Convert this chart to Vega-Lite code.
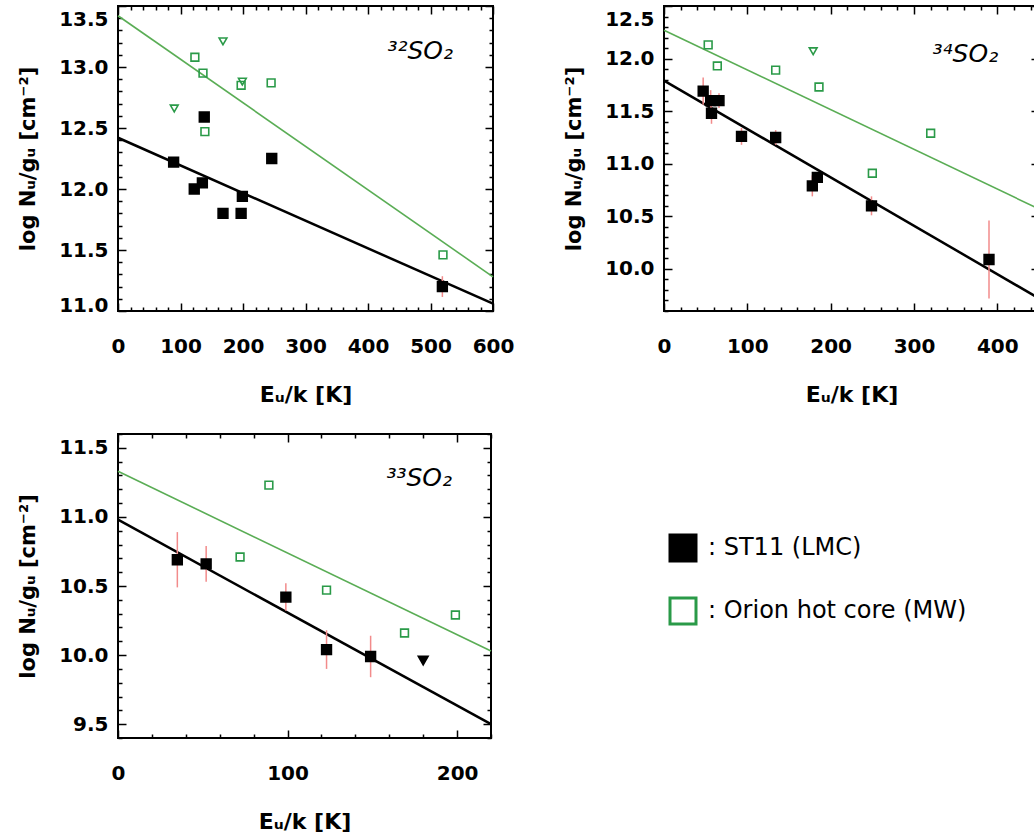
{
  "$schema": "https://vega.github.io/schema/vega-lite/v6.json",
  "background": "white",
  "padding": {"left": 16, "top": 4, "right": 0, "bottom": 0},
  "config": {
    "view": {"stroke": "black", "strokeWidth": 2},
    "axis": {"domain": false, "grid": false, "ticks": true, "tickColor": "black", "tickWidth": 1.5,
      "labelFont": "DejaVu Sans", "labelFontWeight": "bold", "labelFontSize": 20, "labelColor": "black",
      "titleFont": "DejaVu Sans", "titleFontWeight": "bold", "titleFontSize": 21, "titleColor": "black",
      "labelOverlap": false, "labelBound": false, "labelFlush": false},
    "axisBottom": {"labelPadding": 33, "titlePadding": 24, "titleFontSize": 22},
    "axisLeft": {"labelPadding": 18, "titlePadding": 20}
  },
  "datasets": {
    "pts32": [
      {"E": 89, "logN": 12.22, "err": 0.03, "source": "ST11 (LMC)", "kind": "detection"},
      {"E": 122, "logN": 12.00, "err": 0.03, "source": "ST11 (LMC)", "kind": "detection"},
      {"E": 135, "logN": 12.05, "err": 0.03, "source": "ST11 (LMC)", "kind": "detection"},
      {"E": 138, "logN": 12.59, "err": 0.04, "source": "ST11 (LMC)", "kind": "detection"},
      {"E": 168, "logN": 11.80, "err": 0.03, "source": "ST11 (LMC)", "kind": "detection"},
      {"E": 197, "logN": 11.80, "err": 0.03, "source": "ST11 (LMC)", "kind": "detection"},
      {"E": 199, "logN": 11.94, "err": 0.03, "source": "ST11 (LMC)", "kind": "detection"},
      {"E": 246, "logN": 12.25, "err": 0.04, "source": "ST11 (LMC)", "kind": "detection"},
      {"E": 519, "logN": 11.20, "err": 0.085, "source": "ST11 (LMC)", "kind": "detection"},
      {"E": 123, "logN": 13.08, "source": "Orion hot core (MW)", "kind": "detection"},
      {"E": 136, "logN": 12.95, "source": "Orion hot core (MW)", "kind": "detection"},
      {"E": 139, "logN": 12.47, "source": "Orion hot core (MW)", "kind": "detection"},
      {"E": 197, "logN": 12.85, "source": "Orion hot core (MW)", "kind": "detection"},
      {"E": 245, "logN": 12.87, "source": "Orion hot core (MW)", "kind": "detection"},
      {"E": 520, "logN": 11.46, "source": "Orion hot core (MW)", "kind": "detection"},
      {"E": 90, "logN": 12.66, "source": "Orion hot core (MW)", "kind": "upper limit"},
      {"E": 168, "logN": 13.21, "source": "Orion hot core (MW)", "kind": "upper limit"},
      {"E": 199, "logN": 12.88, "source": "Orion hot core (MW)", "kind": "upper limit"}
    ],
    "fit32": [
      {"E": 0, "logN": 12.42, "source": "ST11 (LMC)"},
      {"E": 600, "logN": 11.06, "source": "ST11 (LMC)"},
      {"E": 0, "logN": 13.42, "source": "Orion hot core (MW)"},
      {"E": 600, "logN": 11.28, "source": "Orion hot core (MW)"}
    ],
    "pts34": [
      {"E": 47, "logN": 11.69, "err": 0.13, "source": "ST11 (LMC)", "kind": "detection"},
      {"E": 56, "logN": 11.60, "err": 0.10, "source": "ST11 (LMC)", "kind": "detection"},
      {"E": 66, "logN": 11.60, "err": 0.07, "source": "ST11 (LMC)", "kind": "detection"},
      {"E": 57, "logN": 11.48, "err": 0.10, "source": "ST11 (LMC)", "kind": "detection"},
      {"E": 93, "logN": 11.26, "err": 0.08, "source": "ST11 (LMC)", "kind": "detection"},
      {"E": 134, "logN": 11.25, "err": 0.07, "source": "ST11 (LMC)", "kind": "detection"},
      {"E": 178, "logN": 10.79, "err": 0.10, "source": "ST11 (LMC)", "kind": "detection"},
      {"E": 184, "logN": 10.87, "err": 0.05, "source": "ST11 (LMC)", "kind": "detection"},
      {"E": 249, "logN": 10.60, "err": 0.09, "source": "ST11 (LMC)", "kind": "detection"},
      {"E": 390, "logN": 10.09, "err": 0.37, "source": "ST11 (LMC)", "kind": "detection"},
      {"E": 53, "logN": 12.13, "source": "Orion hot core (MW)", "kind": "detection"},
      {"E": 64, "logN": 11.93, "source": "Orion hot core (MW)", "kind": "detection"},
      {"E": 134, "logN": 11.89, "source": "Orion hot core (MW)", "kind": "detection"},
      {"E": 186, "logN": 11.73, "source": "Orion hot core (MW)", "kind": "detection"},
      {"E": 250, "logN": 10.91, "source": "Orion hot core (MW)", "kind": "detection"},
      {"E": 320, "logN": 11.29, "source": "Orion hot core (MW)", "kind": "detection"},
      {"E": 179, "logN": 12.07, "source": "Orion hot core (MW)", "kind": "upper limit"}
    ],
    "fit34": [
      {"E": 0, "logN": 11.79, "source": "ST11 (LMC)"},
      {"E": 450, "logN": 9.72, "source": "ST11 (LMC)"},
      {"E": 0, "logN": 12.27, "source": "Orion hot core (MW)"},
      {"E": 450, "logN": 10.57, "source": "Orion hot core (MW)"}
    ],
    "pts33": [
      {"E": 35, "logN": 10.69, "err": 0.20, "source": "ST11 (LMC)", "kind": "detection"},
      {"E": 52, "logN": 10.66, "err": 0.13, "source": "ST11 (LMC)", "kind": "detection"},
      {"E": 99, "logN": 10.42, "err": 0.10, "source": "ST11 (LMC)", "kind": "detection"},
      {"E": 123, "logN": 10.04, "err": 0.14, "source": "ST11 (LMC)", "kind": "detection"},
      {"E": 149, "logN": 9.99, "err": 0.15, "source": "ST11 (LMC)", "kind": "detection"},
      {"E": 180, "logN": 9.96, "source": "ST11 (LMC)", "kind": "upper limit"},
      {"E": 89, "logN": 11.23, "source": "Orion hot core (MW)", "kind": "detection"},
      {"E": 72, "logN": 10.71, "source": "Orion hot core (MW)", "kind": "detection"},
      {"E": 123, "logN": 10.47, "source": "Orion hot core (MW)", "kind": "detection"},
      {"E": 169, "logN": 10.16, "source": "Orion hot core (MW)", "kind": "detection"},
      {"E": 199, "logN": 10.29, "source": "Orion hot core (MW)", "kind": "detection"}
    ],
    "fit33": [
      {"E": 0, "logN": 10.98, "source": "ST11 (LMC)"},
      {"E": 220, "logN": 9.50, "source": "ST11 (LMC)"},
      {"E": 0, "logN": 11.33, "source": "Orion hot core (MW)"},
      {"E": 220, "logN": 10.03, "source": "Orion hot core (MW)"}
    ],
    "legend": [
      {"source": "ST11 (LMC)", "label": ": ST11 (LMC)"},
      {"source": "Orion hot core (MW)", "label": ": Orion hot core (MW)"}
    ]
  },
  "spacing": 17,
  "resolve": {
    "scale": {"fill": "independent", "stroke": "independent", "shape": "independent", "size": "independent", "color": "independent", "strokeWidth": "independent"}
  },
  "vconcat": [
    {
      "spacing": 47,
      "hconcat": [
        {
          "width": 375, "height": 305,
          "data": {"name": "pts32"},
          "resolve": {"axis": {"x": "independent", "y": "independent"}},
          "layer": [
            {
              "data": {"name": "fit32"},
              "mark": {"type": "line"},
              "encoding": {
                "x": {"field": "E", "type": "quantitative", "scale": {"domain": [0, 600], "nice": false, "zero": false},
                  "axis": {"orient": "top", "title": null, "labels": false, "values": [0,20,40,60,80,100,120,140,160,180,200,220,240,260,280,300,320,340,360,380,400,420,440,460,480,500,520,540,560,580,600],
                    "tickSize": {"condition": {"test": "datum.value % 100 == 0", "value": -8}, "value": -4}}},
                "y": {"field": "logN", "type": "quantitative", "scale": {"domain": [11, 13.5], "nice": false, "zero": false},
                  "axis": {"orient": "right", "title": null, "labels": false, "values": [11,11.1,11.2,11.3,11.4,11.5,11.6,11.7,11.8,11.9,12,12.1,12.2,12.3,12.4,12.5,12.6,12.7,12.8,12.9,13,13.1,13.2,13.3,13.4,13.5],
                    "tickSize": {"condition": {"test": "abs(datum.value*2 - round(datum.value*2)) < 0.001", "value": -8}, "value": -4}}},
                "color": {"field": "source", "type": "nominal", "scale": {"domain": ["ST11 (LMC)", "Orion hot core (MW)"], "range": ["black", "#5aad55"]}, "legend": null},
                "strokeWidth": {"field": "source", "type": "nominal", "scale": {"domain": ["ST11 (LMC)", "Orion hot core (MW)"], "range": [2.5, 1.6]}, "legend": null}
              }
            },
            {
              "transform": [{"filter": "isValid(datum.err)"}],
              "mark": {"type": "errorbar", "color": "#f28b8b", "thickness": 1.5},
              "encoding": {
                "x": {"field": "E", "type": "quantitative", "scale": {"domain": [0, 600], "nice": false, "zero": false}, "axis": null},
                "y": {"field": "logN", "type": "quantitative", "scale": {"domain": [11, 13.5], "nice": false, "zero": false}, "axis": null},
                "yError": {"field": "err"}
              }
            },
            {
              "mark": {"type": "point", "strokeWidth": 1.6, "opacity": 1},
              "encoding": {
                "x": {"field": "E", "type": "quantitative", "scale": {"domain": [0, 600], "nice": false, "zero": false},
                  "axis": {"orient": "bottom", "title": "Eᵤ/k [K]", "values": [0,20,40,60,80,100,120,140,160,180,200,220,240,260,280,300,320,340,360,380,400,420,440,460,480,500,520,540,560,580,600],
                    "labelExpr": "datum.value % 100 == 0 ? datum.label : ''",
                    "tickSize": {"condition": {"test": "datum.value % 100 == 0", "value": -8}, "value": -4}}},
                "y": {"field": "logN", "type": "quantitative", "scale": {"domain": [11, 13.5], "nice": false, "zero": false},
                  "axis": {"orient": "left", "title": "log  Nᵤ/gᵤ  [cm⁻²]", "format": ".1f", "values": [11,11.1,11.2,11.3,11.4,11.5,11.6,11.7,11.8,11.9,12,12.1,12.2,12.3,12.4,12.5,12.6,12.7,12.8,12.9,13,13.1,13.2,13.3,13.4,13.5],
                    "labelExpr": "abs(datum.value*2 - round(datum.value*2)) < 0.001 ? datum.label : ''",
                    "labelOffset": {"condition": [{"test": "datum.value > 13.45", "value": 13}, {"test": "datum.value < 11.05", "value": -6}], "value": 0},
                    "tickSize": {"condition": {"test": "abs(datum.value*2 - round(datum.value*2)) < 0.001", "value": -8}, "value": -4}}},
                "shape": {"field": "kind", "type": "nominal", "scale": {"domain": ["detection", "upper limit"], "range": ["square", "triangle-down"]}, "legend": null},
                "fill": {"field": "source", "type": "nominal", "scale": {"domain": ["ST11 (LMC)", "Orion hot core (MW)"], "range": ["black", "transparent"]}, "legend": null},
                "stroke": {"field": "source", "type": "nominal", "scale": {"domain": ["ST11 (LMC)", "Orion hot core (MW)"], "range": ["black", "#2a9a48"]}, "legend": null},
                "size": {"field": "source", "type": "nominal", "scale": {"domain": ["ST11 (LMC)", "Orion hot core (MW)"], "range": [95, 60]}, "legend": null}
              }
            },
            {
              "data": {"values": [{"label": "³²SO₂"}]},
              "mark": {"type": "text", "align": "right", "baseline": "middle", "font": "DejaVu Sans", "fontStyle": "italic", "fontSize": 25, "color": "black"},
              "encoding": {
                "x": {"datum": 536, "type": "quantitative", "axis": null},
                "y": {"datum": 13.13, "type": "quantitative", "axis": null},
                "text": {"field": "label"}
              }
            }
          ]
        },
        {
          "width": 375, "height": 305,
          "data": {"name": "pts34"},
          "resolve": {"axis": {"x": "independent", "y": "independent"}},
          "layer": [
            {
              "data": {"name": "fit34"},
              "mark": {"type": "line"},
              "encoding": {
                "x": {"field": "E", "type": "quantitative", "scale": {"domain": [0, 450], "nice": false, "zero": false},
                  "axis": {"orient": "top", "title": null, "labels": false, "values": [0,20,40,60,80,100,120,140,160,180,200,220,240,260,280,300,320,340,360,380,400,420,440],
                    "tickSize": {"condition": {"test": "datum.value % 100 == 0", "value": -8}, "value": -4}}},
                "y": {"field": "logN", "type": "quantitative", "scale": {"domain": [9.6, 12.5], "nice": false, "zero": false},
                  "axis": {"orient": "right", "title": null, "labels": false, "values": [9.6,9.7,9.8,9.9,10,10.1,10.2,10.3,10.4,10.5,10.6,10.7,10.8,10.9,11,11.1,11.2,11.3,11.4,11.5,11.6,11.7,11.8,11.9,12,12.1,12.2,12.3,12.4,12.5],
                    "tickSize": {"condition": {"test": "abs(datum.value*2 - round(datum.value*2)) < 0.001", "value": -8}, "value": -4}}},
                "color": {"field": "source", "type": "nominal", "scale": {"domain": ["ST11 (LMC)", "Orion hot core (MW)"], "range": ["black", "#5aad55"]}, "legend": null},
                "strokeWidth": {"field": "source", "type": "nominal", "scale": {"domain": ["ST11 (LMC)", "Orion hot core (MW)"], "range": [2.5, 1.6]}, "legend": null}
              }
            },
            {
              "transform": [{"filter": "isValid(datum.err)"}],
              "mark": {"type": "errorbar", "color": "#f28b8b", "thickness": 1.5},
              "encoding": {
                "x": {"field": "E", "type": "quantitative", "scale": {"domain": [0, 450], "nice": false, "zero": false}, "axis": null},
                "y": {"field": "logN", "type": "quantitative", "scale": {"domain": [9.6, 12.5], "nice": false, "zero": false}, "axis": null},
                "yError": {"field": "err"}
              }
            },
            {
              "mark": {"type": "point", "strokeWidth": 1.6, "opacity": 1},
              "encoding": {
                "x": {"field": "E", "type": "quantitative", "scale": {"domain": [0, 450], "nice": false, "zero": false},
                  "axis": {"orient": "bottom", "title": "Eᵤ/k [K]", "values": [0,20,40,60,80,100,120,140,160,180,200,220,240,260,280,300,320,340,360,380,400,420,440],
                    "labelExpr": "datum.value % 100 == 0 ? datum.label : ''",
                    "tickSize": {"condition": {"test": "datum.value % 100 == 0", "value": -8}, "value": -4}}},
                "y": {"field": "logN", "type": "quantitative", "scale": {"domain": [9.6, 12.5], "nice": false, "zero": false},
                  "axis": {"orient": "left", "title": "log  Nᵤ/gᵤ  [cm⁻²]", "format": ".1f", "values": [9.6,9.7,9.8,9.9,10,10.1,10.2,10.3,10.4,10.5,10.6,10.7,10.8,10.9,11,11.1,11.2,11.3,11.4,11.5,11.6,11.7,11.8,11.9,12,12.1,12.2,12.3,12.4,12.5],
                    "labelExpr": "abs(datum.value*2 - round(datum.value*2)) < 0.001 ? datum.label : ''",
                    "labelOffset": {"condition": {"test": "datum.value > 12.45", "value": 13}, "value": 0},
                    "tickSize": {"condition": {"test": "abs(datum.value*2 - round(datum.value*2)) < 0.001", "value": -8}, "value": -4}}},
                "shape": {"field": "kind", "type": "nominal", "scale": {"domain": ["detection", "upper limit"], "range": ["square", "triangle-down"]}, "legend": null},
                "fill": {"field": "source", "type": "nominal", "scale": {"domain": ["ST11 (LMC)", "Orion hot core (MW)"], "range": ["black", "transparent"]}, "legend": null},
                "stroke": {"field": "source", "type": "nominal", "scale": {"domain": ["ST11 (LMC)", "Orion hot core (MW)"], "range": ["black", "#2a9a48"]}, "legend": null},
                "size": {"field": "source", "type": "nominal", "scale": {"domain": ["ST11 (LMC)", "Orion hot core (MW)"], "range": [95, 60]}, "legend": null}
              }
            },
            {
              "data": {"values": [{"label": "³⁴SO₂"}]},
              "mark": {"type": "text", "align": "right", "baseline": "middle", "font": "DejaVu Sans", "fontStyle": "italic", "fontSize": 25, "color": "black"},
              "encoding": {
                "x": {"datum": 401, "type": "quantitative", "axis": null},
                "y": {"datum": 12.04, "type": "quantitative", "axis": null},
                "text": {"field": "label"}
              }
            }
          ]
        }
      ]
    },
    {
      "spacing": 167,
      "hconcat": [
        {
          "width": 373, "height": 304,
          "data": {"name": "pts33"},
          "resolve": {"axis": {"x": "independent", "y": "independent"}},
          "layer": [
            {
              "data": {"name": "fit33"},
              "mark": {"type": "line"},
              "encoding": {
                "x": {"field": "E", "type": "quantitative", "scale": {"domain": [0, 220], "nice": false, "zero": false},
                  "axis": {"orient": "top", "title": null, "labels": false, "values": [0,20,40,60,80,100,120,140,160,180,200,220],
                    "tickSize": {"condition": {"test": "datum.value % 100 == 0", "value": -8}, "value": -4}}},
                "y": {"field": "logN", "type": "quantitative", "scale": {"domain": [9.4, 11.6], "nice": false, "zero": false},
                  "axis": {"orient": "right", "title": null, "labels": false, "values": [9.4,9.5,9.6,9.7,9.8,9.9,10,10.1,10.2,10.3,10.4,10.5,10.6,10.7,10.8,10.9,11,11.1,11.2,11.3,11.4,11.5,11.6],
                    "tickSize": {"condition": {"test": "abs(datum.value*2 - round(datum.value*2)) < 0.001", "value": -8}, "value": -4}}},
                "color": {"field": "source", "type": "nominal", "scale": {"domain": ["ST11 (LMC)", "Orion hot core (MW)"], "range": ["black", "#5aad55"]}, "legend": null},
                "strokeWidth": {"field": "source", "type": "nominal", "scale": {"domain": ["ST11 (LMC)", "Orion hot core (MW)"], "range": [2.5, 1.6]}, "legend": null}
              }
            },
            {
              "transform": [{"filter": "isValid(datum.err)"}],
              "mark": {"type": "errorbar", "color": "#f28b8b", "thickness": 1.5},
              "encoding": {
                "x": {"field": "E", "type": "quantitative", "scale": {"domain": [0, 220], "nice": false, "zero": false}, "axis": null},
                "y": {"field": "logN", "type": "quantitative", "scale": {"domain": [9.4, 11.6], "nice": false, "zero": false}, "axis": null},
                "yError": {"field": "err"}
              }
            },
            {
              "mark": {"type": "point", "strokeWidth": 1.6, "opacity": 1},
              "encoding": {
                "x": {"field": "E", "type": "quantitative", "scale": {"domain": [0, 220], "nice": false, "zero": false},
                  "axis": {"orient": "bottom", "title": "Eᵤ/k [K]", "values": [0,20,40,60,80,100,120,140,160,180,200,220],
                    "labelExpr": "datum.value % 100 == 0 ? datum.label : ''",
                    "tickSize": {"condition": {"test": "datum.value % 100 == 0", "value": -8}, "value": -4}}},
                "y": {"field": "logN", "type": "quantitative", "scale": {"domain": [9.4, 11.6], "nice": false, "zero": false},
                  "axis": {"orient": "left", "title": "log  Nᵤ/gᵤ  [cm⁻²]", "format": ".1f", "values": [9.4,9.5,9.6,9.7,9.8,9.9,10,10.1,10.2,10.3,10.4,10.5,10.6,10.7,10.8,10.9,11,11.1,11.2,11.3,11.4,11.5,11.6],
                    "labelExpr": "abs(datum.value*2 - round(datum.value*2)) < 0.001 ? datum.label : ''",
                    "tickSize": {"condition": {"test": "abs(datum.value*2 - round(datum.value*2)) < 0.001", "value": -8}, "value": -4}}},
                "shape": {"field": "kind", "type": "nominal", "scale": {"domain": ["detection", "upper limit"], "range": ["square", "triangle-down"]}, "legend": null},
                "fill": {"field": "source", "type": "nominal", "scale": {"domain": ["ST11 (LMC)", "Orion hot core (MW)"], "range": ["black", "transparent"]}, "legend": null},
                "stroke": {"field": "source", "type": "nominal", "scale": {"domain": ["ST11 (LMC)", "Orion hot core (MW)"], "range": ["black", "#2a9a48"]}, "legend": null},
                "size": {"field": "source", "type": "nominal", "scale": {"domain": ["ST11 (LMC)", "Orion hot core (MW)"], "range": [95, 60]}, "legend": null}
              }
            },
            {
              "data": {"values": [{"label": "³³SO₂"}]},
              "mark": {"type": "text", "align": "right", "baseline": "middle", "font": "DejaVu Sans", "fontStyle": "italic", "fontSize": 25, "color": "black"},
              "encoding": {
                "x": {"datum": 197, "type": "quantitative", "axis": null},
                "y": {"datum": 11.28, "type": "quantitative", "axis": null},
                "text": {"field": "label"}
              }
            }
          ]
        },
        {
          "width": 300, "height": 189,
          "view": {"stroke": null},
          "data": {"name": "legend"},
          "layer": [
            {
              "mark": {"type": "point", "shape": "square", "strokeWidth": 3, "size": 676, "opacity": 1},
              "encoding": {
                "x": {"datum": 0, "type": "quantitative", "scale": {"domain": [0, 1]}, "axis": null},
                "y": {"field": "source", "type": "nominal", "scale": {"type": "point", "domain": ["ST11 (LMC)", "Orion hot core (MW)"], "padding": 1, "align": 0.905}, "axis": null},
                "fill": {"field": "source", "type": "nominal", "scale": {"domain": ["ST11 (LMC)", "Orion hot core (MW)"], "range": ["black", "transparent"]}, "legend": null},
                "stroke": {"field": "source", "type": "nominal", "scale": {"domain": ["ST11 (LMC)", "Orion hot core (MW)"], "range": ["black", "#2a9a48"]}, "legend": null}
              }
            },
            {
              "mark": {"type": "text", "align": "left", "baseline": "middle", "dx": 25, "font": "DejaVu Sans", "fontSize": 24, "color": "black"},
              "encoding": {
                "x": {"datum": 0, "type": "quantitative", "scale": {"domain": [0, 1]}, "axis": null},
                "y": {"field": "source", "type": "nominal", "scale": {"type": "point", "domain": ["ST11 (LMC)", "Orion hot core (MW)"], "padding": 1, "align": 0.905}, "axis": null},
                "text": {"field": "label"}
              }
            }
          ]
        }
      ]
    }
  ]
}
